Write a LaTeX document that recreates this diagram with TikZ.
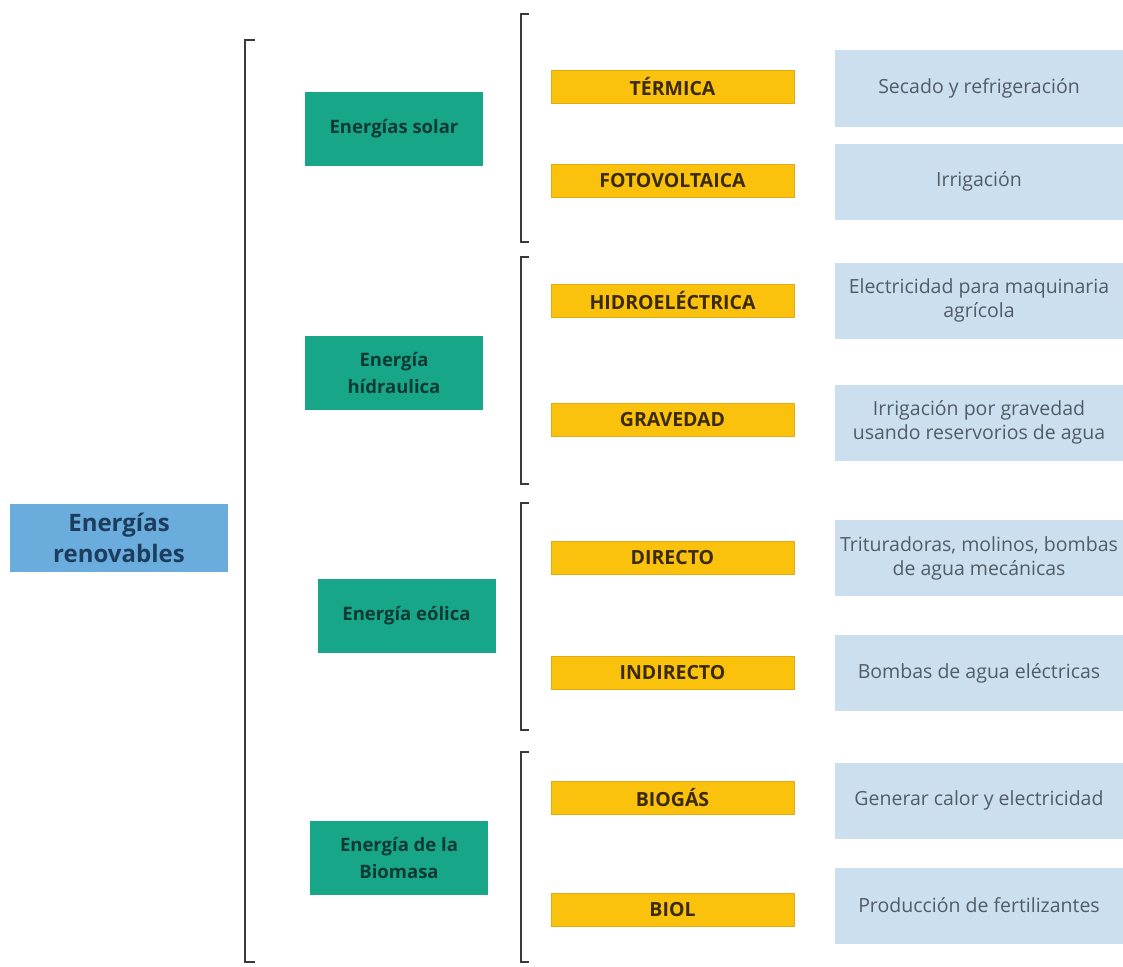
\documentclass[tikz,border=0pt]{standalone}
\usepackage{fontspec}
\setmainfont{Open Sans}
\usepackage{tikz}
\usetikzlibrary{positioning}
\usepackage{xcolor}
\definecolor{rootblue}{HTML}{6AADDC}
\definecolor{rootink}{HTML}{1C3D5E}
\definecolor{teal}{HTML}{18A688}
\definecolor{tealink}{HTML}{0E3A35}
\definecolor{amber}{HTML}{FAC20D}
\definecolor{amberline}{HTML}{E2AA10}
\definecolor{amberink}{HTML}{3A2A05}
\definecolor{paleblue}{HTML}{CBDFEE}
\definecolor{paleink}{HTML}{525C66}
\definecolor{bracketgray}{HTML}{3A3A3A}

\begin{document}
\begin{tikzpicture}[x=1pt, y=-1pt,
    rootNode/.style={rectangle, fill=rootblue, text=rootink, font=\fontsize{24}{31}\selectfont\bfseries, align=center, minimum width=218pt, minimum height=68pt, inner sep=0pt},
    sourceNode/.style={rectangle, fill=teal, text=tealink, font=\fontsize{18.5}{27}\selectfont\bfseries, align=center, minimum width=178pt, minimum height=74pt, inner sep=0pt},
    typeNode/.style={rectangle, fill=amber, draw=amberline, text=amberink, font=\fontsize{19.5}{22}\selectfont\bfseries, minimum width=243pt, minimum height=33pt, inner sep=0pt},
    useNode/.style={rectangle, fill=paleblue, text=paleink, font=\fontsize{19.5}{24}\selectfont, align=center, minimum width=288pt, minimum height=76pt, inner sep=0pt},
    bracketLine/.style={draw=bracketgray, line width=2.6pt}
]
    \useasboundingbox (0,0) rectangle (1123,966);

    \node[rootNode] (root) at (119, 538) {Energías\\renovables};

    \node[sourceNode] (solar) at (394, 128.5) {Energías solar};
    \node[sourceNode] (hidro) at (394, 373)   {Energía\\hídraulica};
    \node[sourceNode] (eolic) at (406.5, 616) {Energía eólica};
    \node[sourceNode] (bioma) at (399, 858)   {Energía de la\\Biomasa};

    \node[typeNode] (term)  at (672.5, 87)  {TÉRMICA};
    \node[typeNode] (foto)  at (672.5, 181) {FOTOVOLTAICA};
    \node[typeNode] (hidel) at (672.5, 301) {HIDROELÉCTRICA};
    \node[typeNode] (grav)  at (672.5, 420) {GRAVEDAD};
    \node[typeNode] (dir)   at (672.5, 558) {DIRECTO};
    \node[typeNode] (indir) at (672.5, 673) {INDIRECTO};
    \node[typeNode] (biog)  at (672.5, 798) {BIOGÁS};
    \node[typeNode] (biol)  at (672.5, 910) {BIOL};

    \node[useNode] (u1) at (979, 88.5)  {Secado y refrigeración};
    \node[useNode] (u2) at (979, 181.5) {Irrigación};
    \node[useNode] (u3) at (979, 300.5) {Electricidad para maquinaria\\agrícola};
    \node[useNode] (u4) at (979, 422.5) {Irrigación por gravedad\\usando reservorios de agua};
    \node[useNode] (u5) at (979, 558)   {Trituradoras, molinos, bombas\\de agua mecánicas};
    \node[useNode] (u6) at (979, 673)   {Bombas de agua eléctricas};
    \node[useNode] (u7) at (979, 800.5) {Generar calor y electricidad};
    \node[useNode] (u8) at (979, 905.5) {Producción de fertilizantes};

    % brackets
    \draw[bracketLine] (255, 40) -| (245, 962) -- (255, 962);
    \foreach \ytop/\ybot in {14/242, 257/484, 503/730, 752/962}
        \draw[bracketLine] (529, \ytop) -| (521, \ybot) -- (529, \ybot);
\end{tikzpicture}
\end{document}
